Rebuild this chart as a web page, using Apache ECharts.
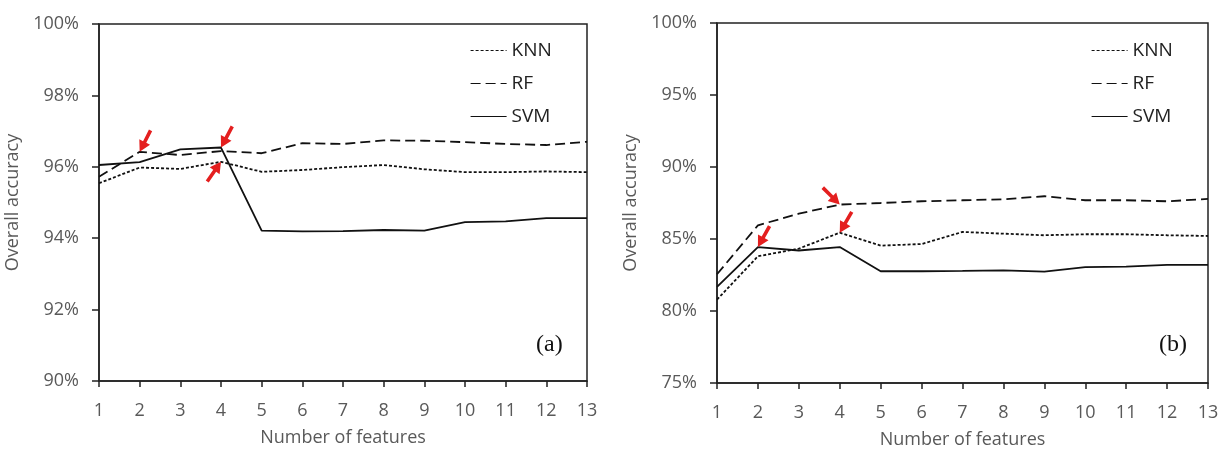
<!DOCTYPE html>
<html>
<head>
<meta charset="utf-8">
<script src="https://cdn.jsdelivr.net/npm/echarts@6/dist/echarts.min.js"></script>
<style>
  body { margin: 0; background: #fff; }
  #wrap { width: 1220px; height: 449px; position: relative; }
  .chart { position: absolute; top: 0; width: 610px; height: 449px; }
</style>
</head>
<body>
<div id="wrap">
  <div class="chart" id="chartA" style="left:0"></div>
  <div class="chart" id="chartB" style="left:610px"></div>
</div>
<script>
// 数据
var features = [1, 2, 3, 4, 5, 6, 7, 8, 9, 10, 11, 12, 13];

// (a)
var knnA = [95.54, 95.98, 95.94, 96.14, 95.86, 95.91, 95.99, 96.05, 95.93, 95.85, 95.85, 95.87, 95.85];
var rfA  = [95.72, 96.42, 96.33, 96.44, 96.38, 96.66, 96.64, 96.74, 96.73, 96.69, 96.64, 96.61, 96.70];
var svmA = [96.05, 96.13, 96.49, 96.54, 94.21, 94.19, 94.20, 94.23, 94.21, 94.45, 94.47, 94.56, 94.56];

// (b)
var knnB = [80.79, 83.80, 84.33, 85.44, 84.54, 84.65, 85.49, 85.37, 85.26, 85.33, 85.33, 85.26, 85.21];
var rfB  = [82.55, 85.95, 86.76, 87.39, 87.50, 87.62, 87.69, 87.76, 87.97, 87.69, 87.69, 87.62, 87.78];
var svmB = [81.67, 84.44, 84.20, 84.44, 82.76, 82.76, 82.78, 82.82, 82.74, 83.04, 83.08, 83.20, 83.20];

var names = ['KNN', 'RF', 'SVM'];
var dashes = [[3, 2], [10, 5], 'solid'];

// 红色箭头 (箭头尖朝上的路径)
var arrowPath = 'path://M6,0 L12,11 L7.8,11 L7.8,24 L4.2,24 L4.2,11 L0,11 Z';
function arrow(x, y, ang) {
  // ang: 顺时针方向角 (0 = 朝上)
  var r = ang * Math.PI / 180, h = 12;
  return {
    coord: [x, y],
    symbol: arrowPath,
    symbolSize: [12, 24],
    symbolRotate: -ang,
    symbolOffset: [-h * Math.sin(r), h * Math.cos(r)],
    itemStyle: { color: '#e41f1f' },
    label: { show: false }
  };
}

var font = '"Open Sans", "Noto Sans", sans-serif';
var gray = '#595959';

function makeOption(cfg) {
  var series = cfg.data.map(function (d, i) {
    return {
      name: names[i],
      type: 'line',
      symbol: 'none',
      data: features.map(function (f, k) { return [f, d[k]]; }),
      lineStyle: { color: '#111', width: 1.8, type: dashes[i] },
      itemStyle: { color: '#111' },
      markPoint: {
        animation: false,
        data: cfg.arrows[i]
      },
      z: 2
    };
  });
  return {
    animation: false,
    grid: {
      left: cfg.left, top: cfg.top, right: cfg.right, bottom: cfg.bottom,
      outerBoundsMode: 'none',
      containLabel: false,
      show: true, borderColor: '#222', borderWidth: 1.5
    },
    legend: {
      data: names,
      orient: 'vertical',
      left: cfg.legendLeft,
      top: 36,
      itemWidth: 36,
      itemHeight: 14,
      itemGap: 14,
      textStyle: { fontFamily: font, fontSize: 19, color: '#222' },
      itemStyle: { opacity: 0 },
      lineStyle: { width: 1.2 }
    },
    xAxis: {
      type: 'value',
      min: 1, max: 13, interval: 1,
      name: 'Number of features',
      nameLocation: 'middle',
      nameGap: 48,
      nameTextStyle: { fontFamily: font, fontSize: 18, color: gray },
      axisLine: { lineStyle: { color: '#222', width: 1.5 } },
      axisTick: { show: true, length: 6, lineStyle: { color: '#222', width: 1.5 } },
      axisLabel: { fontFamily: font, fontSize: 18, color: gray, margin: 21 },
      splitLine: { show: false }
    },
    yAxis: {
      type: 'value',
      min: cfg.ymin, max: 100, interval: cfg.step,
      name: 'Overall accuracy',
      nameLocation: 'middle',
      nameGap: 70,
      nameTextStyle: { fontFamily: font, fontSize: 18, color: gray },
      axisLine: { show: true, lineStyle: { color: '#222', width: 1.5 } },
      axisTick: { show: true, length: 7, lineStyle: { color: '#222', width: 1.5 } },
      axisLabel: { fontFamily: font, fontSize: 18, color: gray, margin: 20, formatter: '{value}%' },
      splitLine: { show: false }
    },
    graphic: [{
      type: 'text',
      left: cfg.tagLeft, top: 333,
      style: { text: cfg.tag, font: '24px "Liberation Serif", "DejaVu Serif", serif', fill: '#111' }
    }],
    series: series
  };
}

var chartA = echarts.init(document.getElementById('chartA'));
chartA.setOption(makeOption({
  data: [knnA, rfA, svmA],
  arrows: [
    [arrow(4, knnA[3], 35)],
    [arrow(2, rfA[1], 207)],
    [arrow(4, svmA[3], 208)]
  ],
  left: 99, top: 24, right: 23, bottom: 68,
  ymin: 90, step: 2,
  legendLeft: 465,
  tag: '(a)', tagLeft: 536
}));

var chartB = echarts.init(document.getElementById('chartB'));
chartB.setOption(makeOption({
  data: [knnB, rfB, svmB],
  arrows: [
    [arrow(4, knnB[3], 210)],
    [arrow(4, rfB[3], 135)],
    [arrow(2, svmB[1], 209)]
  ],
  left: 107, top: 23, right: 12, bottom: 66,
  ymin: 75, step: 5,
  legendLeft: 476,
  tag: '(b)', tagLeft: 549
}));
</script>
</body>
</html>
